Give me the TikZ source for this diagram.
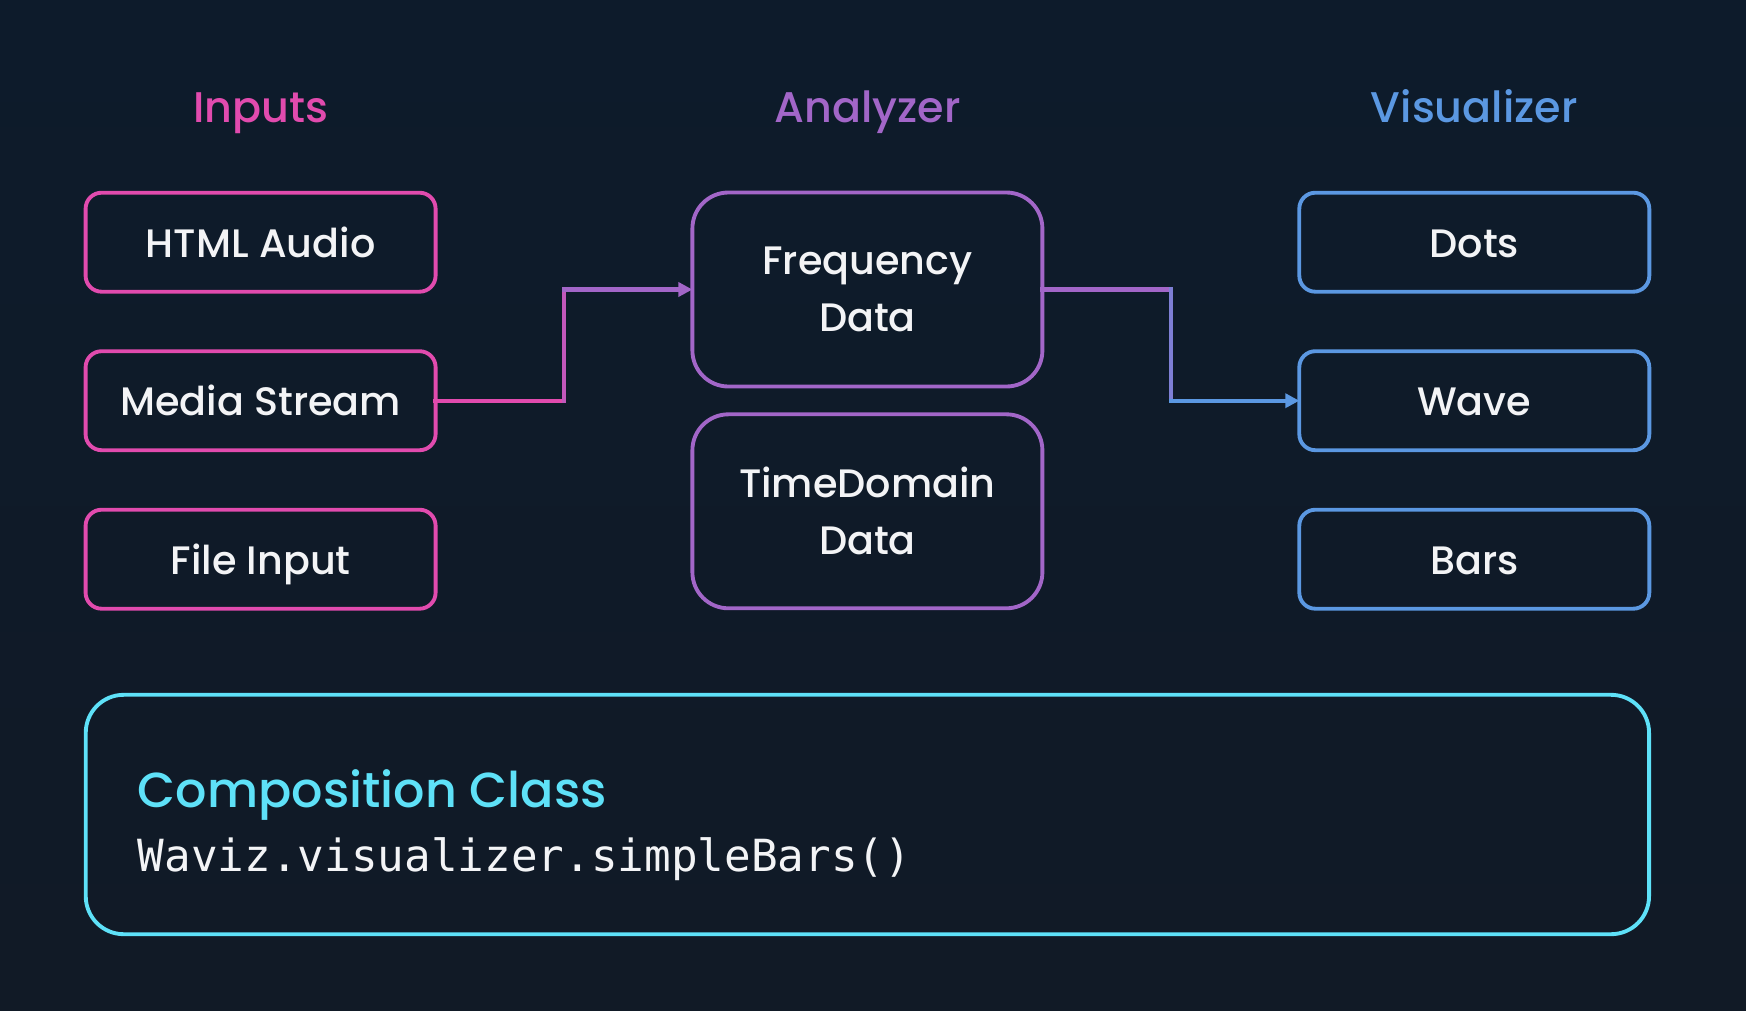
\documentclass[tikz,border=0pt]{standalone}
\usepackage{fontspec}
\setmainfont{Poppins Medium}
\newfontfamily\codefont{DejaVu Sans Mono}
\usepackage{tikz, xcolor}
\usetikzlibrary{positioning,calc,arrows.meta}

\definecolor{bgtop}{HTML}{0D1B2B}
\definecolor{bgbot}{HTML}{111A26}
\definecolor{inpink}{HTML}{E14BAE}
\definecolor{anpurple}{HTML}{A266C8}
\definecolor{visblue}{HTML}{5B98E2}
\definecolor{compcyan}{HTML}{5EE1F8}
\definecolor{boxtext}{HTML}{F3F4F6}

\begin{document}
\begin{tikzpicture}[
    card/.style = {draw = #1, rectangle, rounded corners = 0.16cm, line width = 1.1pt,
                   minimum width = 3.5cm, minimum height = 0.99cm, inner sep = 0pt, outer sep = 0pt,
                   text = boxtext, font = \fontsize{11.3}{14}\selectfont,
                   text height = 0.85em, text depth = 0pt},
    bigcard/.style = {draw = #1, rectangle, rounded corners = 0.36cm, line width = 1.1pt,
                      minimum width = 3.5cm, minimum height = 1.94cm, inner sep = 0pt, outer sep = 0pt,
                      text = boxtext, align = center, font = \fontsize{11.3}{16.2}\selectfont},
    head/.style = {text = #1, anchor = base, inner sep = 0pt, font = \fontsize{12.2}{15}\selectfont},
    link/.style = {line width = 1.2pt, line cap = rect},
    tip/.style = {-{Triangle[length = 0.14cm, width = 0.14cm]}}
]
    \shade[top color = bgtop, bottom color = bgbot] (0,0) rectangle (17.46,-10.10);
    \useasboundingbox (0,0) rectangle (17.46,-10.10);

    \node[card = inpink] (html) at (2.606,-2.422) {HTML Audio};
    \node[card = inpink, below = 0.595cm of html] (media) {Media Stream};
    \node[card = inpink, below = 0.595cm of media] (file) {File Input};

    \node[bigcard = anpurple] (freq) at (8.674,-2.895) {Frequency\\Data};
    \node[bigcard = anpurple, below = 0.278cm of freq] (time) {TimeDomain\\Data};

    \node[card = visblue] (dots) at (14.743,-2.422) {Dots};
    \node[card = visblue, below = 0.595cm of dots] (wave) {Wave};
    \node[card = visblue, below = 0.595cm of wave] (bars) {Bars};

    \node[head = inpink] (inputs) at ([yshift = 0.7cm]html.north) {Inputs};
    \node[head = anpurple] (analyzer) at ([yshift = 0.7cm]freq.north) {Analyzer};
    \node[head = visblue] (visualizer) at ([yshift = 0.7cm]dots.north) {Visualizer};

    \node[draw = compcyan, rectangle, rounded corners = 0.38cm, line width = 1.1pt,
          minimum width = 15.633cm, minimum height = 2.394cm, inner sep = 0pt, outer sep = 0pt]
          (comp) at (8.674,-8.145) {};
    \node[anchor = base west, inner sep = 0pt, text = compcyan, font = \fontsize{14}{17}\selectfont]
          (comptitle) at ([xshift = 0.515cm, yshift = 0.075cm]comp.west) {Composition Class};
    \node[anchor = base west, inner sep = 0pt, text = boxtext, font = \codefont\fontsize{12.6}{15}\selectfont]
          (compcode) at ([xshift = 0.515cm, yshift = -0.565cm]comp.west) {Waviz.visualizer.simpleBars()};

    \coordinate (k1) at ($(media.east)!0.5!(freq.west)$);
    \coordinate (k2) at ($(freq.east)!0.5!(wave.west)$);

    \draw[link, inpink] (media.east) -- (media.east -| k1);
    \draw[link, inpink!50!anpurple] (media.east -| k1) -- (freq.west -| k1);
    \draw[link, anpurple, tip] (freq.west -| k1) -- (freq.west);

    \draw[link, anpurple] (freq.east) -- (freq.east -| k2);
    \draw[link, anpurple!50!visblue] (freq.east -| k2) -- (wave.west -| k2);
    \draw[link, visblue, tip] (wave.west -| k2) -- (wave.west);
\end{tikzpicture}
\end{document}
